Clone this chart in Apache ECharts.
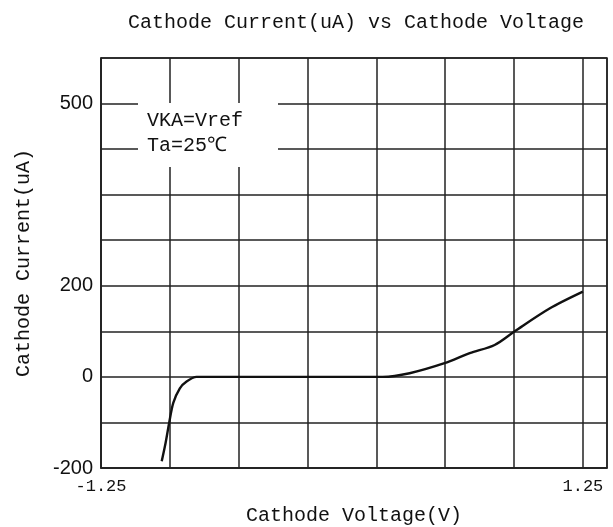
<!DOCTYPE html>
<html>
<head>
<meta charset="utf-8">
<script src="https://cdn.jsdelivr.net/npm/echarts@6/dist/echarts.min.js"></script>
<style>
  html, body { margin: 0; padding: 0; background: #fff; }
  #chart { width: 613px; height: 527px; }
</style>
</head>
<body>
<div id="chart"></div>
<script>
// curve: [voltage V, current uA]
const curve = [
  [-0.935, -185], [-0.915, -145], [-0.896, -100], [-0.875, -57],
  [-0.841, -25], [-0.806, -10], [-0.754, 0], [0.211, 0],
  [0.351, 8], [0.532, 30], [0.663, 52], [0.792, 70],
  [0.896, 100], [1.077, 150], [1.25, 187]
]
const xTickValues = [-1.25, 1.25]
const yTickValues = [-200, 0, 200, 600]
const yTickTexts = ['-200', '0', '200', '500']

const mono = '"Liberation Mono", "DejaVu Sans Mono", monospace'
const gridColor = '#222'

const chart = echarts.init(document.getElementById('chart'))
chart.setOption({
  animation: false,
  backgroundColor: '#fff',
  title: {
    text: 'Cathode Current(uA) vs Cathode Voltage',
    left: 351,
    top: 8,
    textAlign: 'center',
    textStyle: { fontFamily: mono, fontSize: 20, fontWeight: 'normal', color: '#111' }
  },
  grid: {
    left: 101, right: 6, top: 58, bottom: 59,
    outerBoundsMode: 'none',
    containLabel: false,
    show: true, borderColor: gridColor, borderWidth: 1.5
  },
  xAxis: [
    {
      type: 'value',
      min: -1.25,
      max: 1.375,
      name: 'Cathode Voltage(V)',
      nameLocation: 'middle',
      nameGap: 38,
      nameTextStyle: { fontFamily: mono, fontSize: 20, color: '#111' },
      axisLine: { show: true, onZero: false, lineStyle: { color: gridColor, width: 1.5 } },
      axisTick: { show: false },
      splitLine: { show: false },
      axisLabel: {
        customValues: xTickValues,
        margin: 10,
        fontFamily: mono,
        fontSize: 17,
        color: '#111',
        formatter: v => v.toFixed(2)
      }
    },
    {
      // grid of 7 equal divisions from -1.25 to 1.25
      type: 'value',
      position: 'top',
      min: 0,
      max: 7.35,
      interval: 1,
      axisLine: { show: false },
      axisTick: { show: false },
      axisLabel: { show: false },
      splitLine: { show: true, lineStyle: { color: gridColor, width: 1.5 } }
    }
  ],
  yAxis: {
    type: 'value',
    min: -200,
    max: 700,
    interval: 100,
    name: 'Cathode Current(uA)',
    nameLocation: 'middle',
    nameGap: 67,
    nameRotate: 90,
    nameTextStyle: { fontFamily: mono, fontSize: 20, color: '#111' },
    axisLine: { show: true, onZero: false, lineStyle: { color: gridColor, width: 1.5 } },
    axisTick: { show: false },
    splitLine: { show: true, lineStyle: { color: gridColor, width: 1.5 } },
    axisLabel: {
      margin: 8,
      fontFamily: '"Liberation Sans Narrow", "Liberation Sans", Arial, sans-serif',
      fontSize: 20,
      color: '#111',
      formatter: v => {
        const i = yTickValues.indexOf(v)
        return i >= 0 ? yTickTexts[i] : ''
      }
    }
  },
  graphic: [
    {
      type: 'rect',
      left: 138, top: 103,
      shape: { width: 140, height: 64 },
      style: { fill: '#fff' },
      z: 100
    },
    {
      type: 'text',
      left: 147, top: 108,
      style: {
        text: 'VKA=Vref\nTa=25℃',
        font: '20px "Liberation Mono", monospace',
        lineHeight: 25,
        fill: '#111'
      },
      z: 101
    }
  ],
  series: [
    {
      type: 'line',
      xAxisIndex: 0,
      data: curve,
      smooth: 0.3,
      symbol: 'none',
      lineStyle: { color: '#111', width: 2.4 }
    }
  ]
})
</script>
</body>
</html>
